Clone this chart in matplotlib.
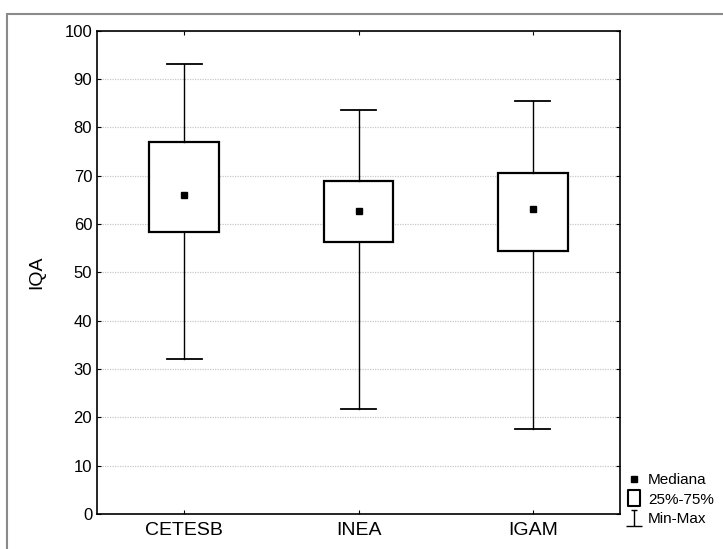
import matplotlib
matplotlib.use('Agg')
import matplotlib.pyplot as plt
from matplotlib.lines import Line2D
from matplotlib.patches import Rectangle
from matplotlib.path import Path

plt.rcParams['font.family'] = ['Liberation Sans', 'DejaVu Sans']

# values
agencies = ['CETESB', 'INEA', 'IGAM']
minimum = [32.1, 21.7, 17.6]
q25 = [58.3, 56.3, 54.5]
median = [66.0, 62.7, 63.1]
q75 = [76.9, 68.9, 70.6]
maximum = [93.0, 83.6, 85.4]
y_ticks = list(range(0, 101, 10))


fig = plt.figure(figsize=(7.23, 5.49), dpi=100)
ax = fig.add_axes([0.1342, 0.0637, 0.7234, 0.8807])

stats = [dict(label=a, whislo=lo, q1=p25, med=m, q3=p75, whishi=hi, fliers=[])
         for a, lo, p25, m, p75, hi in zip(agencies, minimum, q25, median, q75, maximum)]
pos = list(range(len(agencies)))
ax.bxp(stats, positions=pos, widths=0.4, capwidths=0.2, showfliers=False,
       patch_artist=True,
       boxprops=dict(facecolor='white', edgecolor='black', linewidth=1.6),
       whiskerprops=dict(color='black', linewidth=1.0),
       capprops=dict(color='black', linewidth=1.3),
       medianprops=dict(linewidth=0))
ax.plot(pos, median, 's', color='black', markersize=5, zorder=5)

ax.set_xlim(-0.5, 2.5)
ax.set_ylim(0, 100)
ax.set_yticks(y_ticks)
ax.set_xticks(pos)
ax.set_xticklabels(agencies, fontsize=14)
ax.tick_params(axis='y', labelsize=12, direction='in', length=3, right=True)
ax.tick_params(axis='x', direction='in', length=3, top=True, pad=6)
ax.yaxis.grid(True, linestyle=(0, (1, 1)), color='#c8c8c8', linewidth=0.9)
ax.set_axisbelow(True)
for s in ax.spines.values():
    s.set_linewidth(1.2)
ax.set_ylabel('IQA', fontsize=14, labelpad=14)

# legend symbols
box_path = Path([(-0.75, -1), (0.75, -1), (0.75, 1), (-0.75, 1), (-0.75, -1)],
                [Path.MOVETO, Path.LINETO, Path.LINETO, Path.LINETO, Path.CLOSEPOLY])
mm_path = Path([(-0.45, 1), (0.45, 1), (0, 1), (0, -1), (-1, -1), (1, -1)],
               [Path.MOVETO, Path.LINETO, Path.MOVETO, Path.LINETO, Path.MOVETO, Path.LINETO])
handles = [
    Line2D([], [], marker='s', color='black', linestyle='none', markersize=5),
    Line2D([], [], marker=box_path, markerfacecolor='white', markeredgecolor='black',
           linestyle='none', markersize=12, markeredgewidth=1.5),
    Line2D([], [], marker=mm_path, color='black', linestyle='none',
           markersize=11, markeredgewidth=1.0),
]
fig.legend(handles, ['Mediana', '25%-75%', 'Min-Max'], loc='upper left',
           bbox_to_anchor=(0.868, 0.138), frameon=False, fontsize=11,
           handlelength=0.9, handletextpad=0.45, labelspacing=0.36, borderpad=0,
           borderaxespad=0)

# grey outer frame
fig.add_artist(Rectangle((7 / 723, -0.1), 1.2, 1.1 - 14 / 549,
                         transform=fig.transFigure, fill=False,
                         edgecolor='#8a8a8a', linewidth=1.5))

fig.savefig('out.png', dpi=100)
